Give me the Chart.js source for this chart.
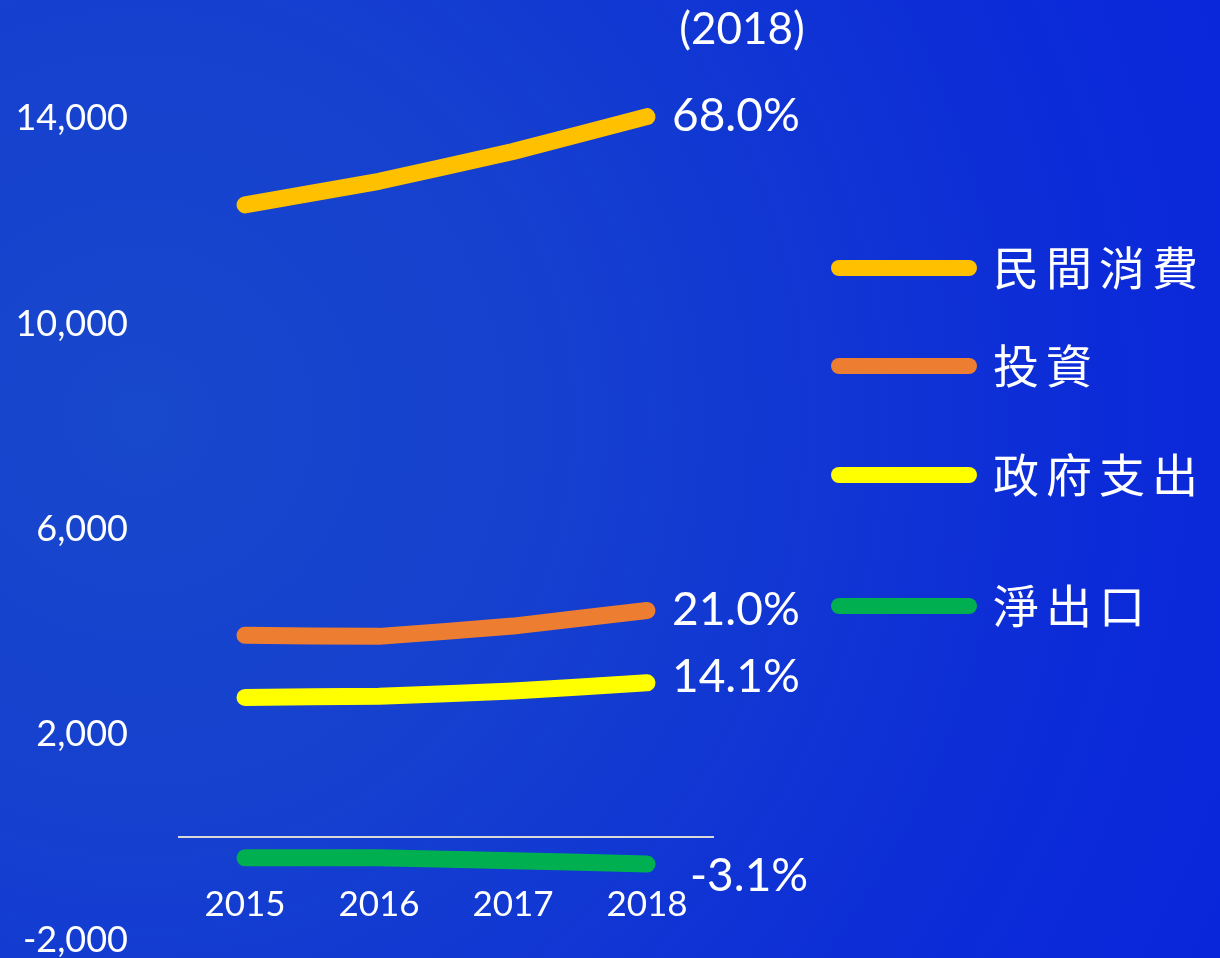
<!DOCTYPE html>
<html>
<head>
<meta charset="utf-8">
<script src="https://cdn.jsdelivr.net/npm/chart.js@4/dist/chart.umd.min.js"></script>
<style>
  html, body { margin: 0; padding: 0; }
  body {
    width: 1220px; height: 958px; overflow: hidden;
    background: radial-gradient(circle at 140px 420px, #1848cc 0%, #1540cf 35%, #0c2bd8 80%, #0a26da 100%);
  }
  canvas { display: block; }
</style>
</head>
<body>
<canvas id="chart" width="1220" height="958"></canvas>
<script>
// GDP components, 2015-2018
const YEARS = ['2015', '2016', '2017', '2018'];
const SERIES_NAMES = ['民間消費', '投資', '政府支出', '淨出口'];
const PRIVATE_CONSUMPTION = [12320, 12780, 13360, 14040];
const INVESTMENT = [3935, 3915, 4115, 4420];
const GOVERNMENT = [2725, 2750, 2850, 3010];
const NET_EXPORTS = [-400, -400, -455, -520];
const SHARE_2018 = ['68.0%', '21.0%', '14.1%', '-3.1%'];
const Y_TICKS = [-2000, 2000, 6000, 10000, 14000];
const TITLE = '(2018)';

const COLORS = ['#ffc000', '#ed7d31', '#ffff00', '#00b050'];
const NUM_FONT = 'Lato, "Open Sans", sans-serif';
const CJK_FONT = '"Noto Sans CJK TC", "Noto Sans CJK SC", sans-serif';

// legend rows sit in the right margin, not evenly spaced in the original
const LEGEND_Y = [268, 366, 475, 606];
// nudges for the end-of-line share labels
const LABEL_DX = [25, 25, 25, 43];
const LABEL_DY = [0, 0, -6, 12];

const sideDecor = {
  id: 'sideDecor',
  afterDatasetsDraw(chart) {
    const ctx = chart.ctx;
    ctx.save();
    ctx.fillStyle = '#ffffff';
    ctx.textBaseline = 'middle';

    // share labels at the 2018 point of every line
    ctx.font = '46px ' + NUM_FONT;
    ctx.textAlign = 'left';
    chart.data.datasets.forEach((ds, i) => {
      const pts = chart.getDatasetMeta(i).data;
      const p = pts[pts.length - 1];
      ctx.fillText(SHARE_2018[i], p.x + LABEL_DX[i], p.y + LABEL_DY[i]);
    });

    // "(2018)" above the labels
    const lastX = chart.scales.x.getPixelForValue(YEARS.length - 1);
    ctx.textAlign = 'center';
    ctx.font = '44px ' + NUM_FONT;
    ctx.fillText(TITLE, lastX + 95, 30);

    // legend
    ctx.textAlign = 'left';
    ctx.font = '46px ' + CJK_FONT;
    ctx.letterSpacing = '7px';
    chart.data.datasets.forEach((ds, i) => {
      const y = LEGEND_Y[i];
      ctx.strokeStyle = ds.borderColor;
      ctx.lineWidth = 16;
      ctx.lineCap = 'round';
      ctx.beginPath();
      ctx.moveTo(839, y);
      ctx.lineTo(969, y);
      ctx.stroke();
      ctx.fillText(ds.label, 993, y);
    });
    ctx.restore();
  }
};

const seriesValues = [PRIVATE_CONSUMPTION, INVESTMENT, GOVERNMENT, NET_EXPORTS];

new Chart(document.getElementById('chart'), {
  type: 'line',
  data: {
    labels: YEARS,
    datasets: SERIES_NAMES.map((name, i) => ({
      label: name,
      data: seriesValues[i],
      borderColor: COLORS[i],
      backgroundColor: COLORS[i],
      borderWidth: 17,
      borderCapStyle: 'round',
      borderJoinStyle: 'round',
      pointRadius: 0,
      tension: 0.05
    }))
  },
  options: {
    responsive: false,
    animation: false,
    layout: { padding: { left: 0, right: 506, top: 16, bottom: 18 } },
    plugins: {
      legend: { display: false },
      tooltip: { enabled: false }
    },
    scales: {
      x: {
        type: 'category',
        offset: true,
        position: { y: 0 },
        grid: { display: false, drawTicks: false },
        border: { display: false },
        ticks: {
          color: '#ffffff',
          font: { family: NUM_FONT, size: 35 },
          padding: 46,
          maxRotation: 0
        }
      },
      y: {
        min: -2000,
        max: 16000,
        afterBuildTicks(scale) {
          // labelled ticks plus an unlabelled one at zero for the base line
          scale.ticks = Y_TICKS.concat([0]).map(v => ({ value: v }));
        },
        afterFit(scale) {
          scale.width = 178;
          scale.paddingTop = 0;
          scale.paddingBottom = 0;
        },
        grid: {
          drawTicks: false,
          lineWidth: 2,
          color: (c) => (c.tick && c.tick.value === 0 ? '#d9d9d9' : 'rgba(0,0,0,0)')
        },
        border: { display: false },
        ticks: {
          color: '#ffffff',
          font: { family: NUM_FONT, size: 36, lineHeight: 1 },
          padding: 50,
          callback: (v) => (v === 0 ? '' : v.toLocaleString('en-US'))
        }
      }
    }
  },
  plugins: [sideDecor]
});
</script>
</body>
</html>
